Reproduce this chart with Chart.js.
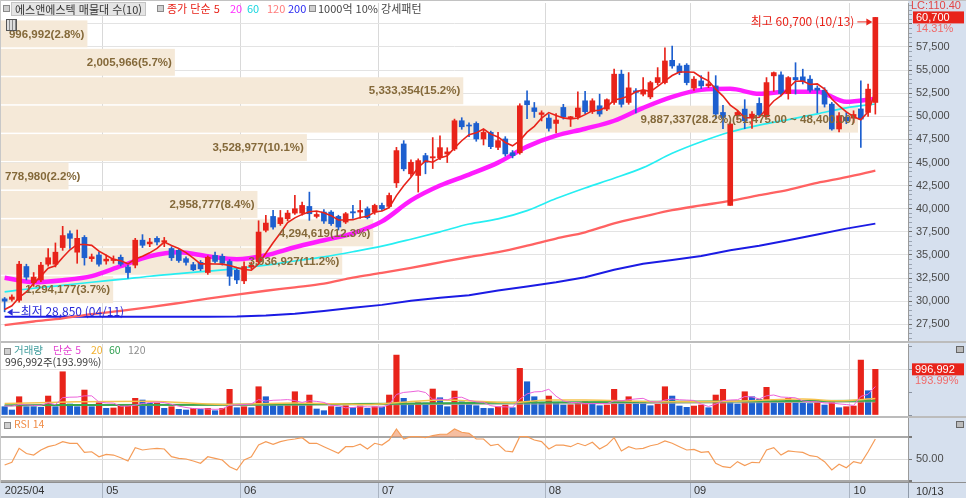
<!DOCTYPE html>
<html lang="ko">
<head>
<meta charset="utf-8">
<title>에스앤에스텍 일봉</title>
<script src="https://cdn.jsdelivr.net/npm/chart.js@4.4.1/dist/chart.umd.min.js"></script>
<style>
html,body{margin:0;padding:0;background:#fff;}
#wrap{position:relative;width:966px;height:498px;overflow:hidden;background:#fff;font-family:'Noto Sans CJK KR','Noto Sans',sans-serif;}
#wrap canvas{position:absolute;left:0;}
.a{position:absolute;white-space:nowrap;line-height:1;}
.ic{position:absolute;width:5px;height:5px;border:1px solid #8a8a8a;background:#cfcfcf;}
.t{position:absolute;white-space:nowrap;line-height:12px;}
</style>
</head>
<body>
<div id="wrap">
  <div class="a" style="left:908px;top:0;width:58px;height:498px;background:#d6e0ee"></div>
  <div class="a" style="left:0;top:483px;width:966px;height:15px;background:#d6e0ee"></div>
  <canvas id="cPrice" width="966" height="342" style="top:0"></canvas>
  <canvas id="cVol" width="966" height="76" style="top:342px"></canvas>
  <canvas id="cRsi" width="966" height="80" style="top:418px"></canvas>
  <div class="a" style="left:0;top:0;width:966px;height:1px;background:#c2c2c2"></div>
  <div class="a" style="left:0;top:341px;width:966px;height:2px;background:#bcbcbc"></div>
  <div class="a" style="left:0;top:416px;width:966px;height:2px;background:#bcbcbc"></div>
  <div class="a" style="left:0;top:482px;width:966px;height:1px;background:#8f8f8f"></div>
  <div class="a" style="left:0;top:0;width:1px;height:483px;background:#c8c8c8"></div>
  <div class="a" style="left:908px;top:483px;width:1px;height:15px;background:#8f9aa8"></div>
  <div id="legends"></div>
</div>
<script>
// ---------------- DATA ----------------
const monthDays = [
  ['2025/04',[11,14,15,16,17,18,21,22,23,24,25,28,29,30]],
  ['2025/05',[2,7,8,9,12,13,14,15,16,19,20,21,22,23,26,27,28,29,30]],
  ['2025/06',[2,4,5,9,10,11,12,13,16,17,18,19,20,23,24,25,26,27,30]],
  ['2025/07',[1,2,3,4,7,8,9,10,11,14,15,16,17,18,21,22,23,24,25,28,29,30,31]],
  ['2025/08',[1,4,5,6,7,8,11,12,13,14,18,19,20,21,22,25,26,27,28,29]],
  ['2025/09',[1,2,3,4,5,8,9,10,11,12,15,16,17,18,19,22,23,24,25,26,29,30]],
  ['2025/10',[1,2,10,13]]
];
const padSlots = ['+1','+2','+3','+4'];

const opens = [30250,30200,30100,33750,32000,32300,34000,34000,35800,37300,
35300,36900,34600,35000,34350,34400,34750,33700,33900,36600,
36200,36800,36400,35700,35500,34600,33950,34200,33100,34950,
34850,34300,33350,32200,33700,34250,37670,39170,38390,38930,
39530,39530,40250,39170,39640,39640,39170,38560,39680,39640,
40000,39640,40360,40250,42800,47010,43780,43600,45750,45500,
45530,45930,46470,49520,49050,49230,47550,48260,46640,47550,
46060,46060,51680,50920,50200,49810,49230,50960,49850,49950,
51680,50520,51140,50780,51500,54560,51500,52760,52400,52100,
53650,53650,56060,55450,55530,53050,53830,53300,53290,50420,
40360,50060,50780,49950,51400,49950,54380,54480,52460,54200,
54270,54020,53050,52830,51320,48630,49900,49800,50800,50420,51500];
const highs = [30400,30700,34300,34000,33100,34200,35700,36300,38100,37600,
37700,37100,35100,35300,35000,34900,35000,33900,36800,37200,
36800,37000,36900,35900,35600,34800,34200,34400,34900,35300,
35100,34500,33500,34250,34200,38700,39280,39820,39820,39820,
41440,40720,41800,39600,39900,39800,39300,39600,40360,40900,
40200,40500,40600,41700,46640,47370,45300,45400,46000,47700,
47900,46600,49700,49850,49300,49400,48500,48400,48260,47800,
46300,51360,52760,51500,50600,50200,50300,51300,50000,52650,
52700,51900,52400,51900,55100,55000,54730,53000,54190,53800,
55270,57420,57600,55700,55700,54300,54400,54800,54400,51200,
49400,50600,51800,50500,52000,54190,54800,54800,54300,55800,
55100,54400,53300,53100,51500,50400,50400,50600,53830,53480,60700];
const lows = [28850,30000,29900,32300,31600,32100,33800,33700,35500,35700,
34100,33900,34300,33800,34000,34100,33800,32500,33600,35800,
35900,36100,35900,34400,34200,33900,33300,33300,32900,34100,
33900,31700,31900,31900,33500,34100,37500,37800,38200,38700,
39400,39300,38740,39000,38400,38200,37700,38400,38960,38960,
38900,39400,39800,40100,42300,44100,43500,41800,43780,44350,
45300,45000,46300,48600,47800,47300,46900,46500,46400,45700,
45500,45900,49740,49880,49500,48400,48200,49700,48900,49700,
50300,50300,50000,50600,51300,51000,51300,50380,52200,51900,
53400,53500,55200,54500,53400,52800,53000,53100,49740,48660,
40360,49600,48660,48700,50000,49900,52700,52200,51860,52400,
53500,52600,50380,51000,48500,48300,49200,49300,46640,50000,50240];
const closes = [30000,30450,34000,32600,32600,33900,34700,35300,37100,36800,
36800,34700,34800,34000,34550,34550,34000,33100,36600,36050,
36400,36400,36550,34700,34400,34200,33400,33500,34750,34300,
34100,32700,32300,33750,33900,37480,38450,38020,39030,39530,
40000,40360,39460,39380,38670,38390,38020,39460,39550,39820,
39030,40360,40000,41440,46290,44320,45030,45210,45030,45630,
46610,46150,49520,48870,48950,47550,48260,46720,47370,45930,
45750,51140,51250,50520,50380,48700,49600,49950,49950,50900,
50500,51680,50250,51800,54560,51300,53080,52580,52760,53650,
54190,55990,55450,54730,53650,54020,53290,53500,50250,49880,
49170,50420,49520,50240,50150,53650,54730,52460,54190,53950,
53760,52830,52830,51320,48630,50060,49520,50200,49700,52940,60700];

// price moving averages
const ma5 = [29100,29500,30400,31000,31930,32710,33560,33820,34720,35560,
36140,36140,36040,35420,34970,34520,34380,34040,34560,34860,
35230,35710,36400,36020,35690,35250,34650,34040,34050,34030,
34010,33870,33630,33430,33350,34030,35180,36320,37380,38500,
39010,39390,39680,39750,39570,39250,38780,38780,38820,39050,
39180,39640,39750,40130,41420,42480,43420,44460,45180,45040,
45500,45730,46590,47360,48020,48210,48630,48070,47770,47170,
46810,47380,48290,48920,49810,50400,50090,49830,49720,49820,
50180,50600,50660,51030,51760,51920,52200,52660,52860,52670,
53250,53830,54410,54800,54800,54770,54230,53840,52940,52190,
51220,50640,49850,49850,49900,50800,51660,52250,53040,53800,
53820,53440,53510,52940,51870,51130,50470,49950,49620,50480,52610];
const maIdx  = [0,4,8,12,16,20,24,28,32,36,40,44,48,52,56,60,64,68,72,76,80,84,88,92,96,100,104,108,112,116,120];
const ma20Val  = [32540,32060,32275,32710,33780,34860,35290,34860,34540,34970,35830,36590,37340,38630,40900,42510,43700,44990,46720,47910,48660,49520,50920,52110,52860,52970,52430,52650,52650,51570,51900];
const ma60Val  = [31010,31400,31720,32050,32350,32700,32980,33250,33520,33900,34350,34800,35350,35950,36700,37500,38350,38900,39800,41100,42250,43300,44450,46000,47250,48300,49050,49650,50270,50920,51330];
const ma120Val = [27420,27800,28150,28600,28950,29350,29800,30270,30720,31130,31500,31900,32550,33050,33600,34200,34780,35300,36000,36780,37450,38420,39150,39850,40360,40850,41470,42050,42800,43410,44130];
const ma200Val = [28320,28320,28320,28320,28320,28320,28320,28320,28330,28450,28650,28950,29300,29600,30050,30380,30650,31150,31600,32050,32600,33400,34050,34450,34900,35510,36000,36600,37220,37850,38390];

// volume (shares)
const volumes = [181000,109000,399000,181000,181000,168000,414000,181000,944000,240000,
181000,545000,181000,268000,146000,153000,203000,207000,364000,327000,
255000,262000,146000,181000,124000,109000,146000,124000,146000,94000,
146000,560000,159000,181000,159000,617000,399000,255000,203000,207000,
508000,203000,436000,131000,94000,185000,174000,203000,159000,196000,
146000,181000,174000,436000,1308000,364000,255000,268000,262000,567000,
377000,181000,523000,290000,233000,203000,146000,142000,181000,218000,
159000,1018000,726000,399000,255000,414000,255000,218000,225000,255000,
290000,279000,203000,218000,560000,290000,399000,290000,283000,203000,
233000,617000,414000,196000,168000,196000,218000,159000,436000,560000,
268000,240000,508000,399000,342000,604000,327000,290000,364000,290000,
255000,251000,290000,218000,290000,159000,181000,196000,1199000,530000,996992];
const volMa5K = [200,195,230,220,210,208,269,225,378,389,
392,418,418,283,264,259,190,195,215,251,
271,283,271,234,194,164,141,137,130,124,
131,214,221,228,241,335,303,322,327,336,
314,275,311,297,274,210,204,157,163,183,
176,177,171,227,449,493,507,526,491,343,
346,331,382,388,321,286,279,203,181,178,
169,344,460,504,511,562,410,308,273,273,
249,253,250,249,310,310,334,351,364,293,
282,325,350,333,326,318,238,187,235,314,
328,333,402,395,351,419,436,392,385,375,
305,290,290,261,261,242,228,209,405,453,621];
const volMa20Idx = [0,10,20,30,40,50,54,60,70,75,80,90,100,110,115,120];
const volMa20K   = [250,290,300,230,260,230,270,330,270,330,330,290,300,350,310,360];
const volMa60Idx = [0,30,60,90,120];
const volMa60K   = [215,225,255,290,310];
const volMa120Idx = [0,40,80,120];
const volMa120K   = [205,215,245,285];

// RSI 14
const rsi = [44.5,47,59.7,55,53.6,58.2,61.2,62.7,65.8,64.3,
64.3,56,56.6,52,54.2,53.6,51.2,48.2,60.3,58.2,
59.1,59.7,59.1,52.1,50.6,50,48.2,46.1,52.1,50.6,
49.1,43,40,49.1,52.1,62.7,65.8,63.4,65.8,67.3,
68.2,69.4,64.3,64.3,61.2,58.2,55.2,61.2,61.2,63.4,
59.1,64.3,62.7,67.3,77.3,68.2,70.3,70.3,69.4,71.2,
72.5,72.5,77.3,74.3,73.3,68.2,68.2,62.1,63.4,57.3,
56.6,70.3,70.3,67.3,65.8,59.1,62.7,62.7,61.2,64.3,
62.1,65.2,59.1,62.7,69.4,57.3,61.2,59.1,59.7,62.1,
63.4,66.4,64.3,61.2,58.2,58.8,56,56.6,46.1,43,
42.1,47.6,44,47,46.6,58.2,60.3,53.6,57.3,56.6,
56,53,52.1,47.6,40,45.2,42.1,47.6,46.1,56.6,68.2];

// volume profile (매물대, 10 bands)
const profileHigh = [60700,57625,54550,51475,48400,45325,42250,39175,36100,33025];
const profileLow  = [57625,54550,51475,48400,45325,42250,39175,36100,33025,29950];
const profileVol  = [996992,2005966,5333354,9887337,3528977,778980,2958777,4294619,3936927,1294177];
const profilePct  = ['2.8','5.7','15.2','28.2','10.1','2.2','8.4','12.3','11.2','3.7'];

// axis tick labels
const priceTickLabels = [27500,30000,32500,35000,37500,40000,42500,45000,47500,50000,52500,55000,57500];
const rsiTickLabels = [50];
const lastChangePct = '14.31%';
const lcText = 'LC:110.40';
const volRatioPct = '193.99%';

// ---------------- BUILD ----------------
const dates = monthDays.flatMap(([m, ds]) => ds.map(d => m + '/' + String(d).padStart(2, '0')));
const labels = dates.concat(padSlots);
const N = labels.length;
const LAST = closes.length - 1;
const monthStart = {};
dates.forEach((l, i) => {
  const [y, m] = l.split('/');
  if (i === 0) monthStart[i] = y + '/' + m;
  else if (dates[i - 1].split('/')[1] !== m) monthStart[i] = m;
});
const fmt = v => v.toLocaleString('en-US');
const fmt2 = v => v.toLocaleString('en-US', {minimumFractionDigits: 2, maximumFractionDigits: 2});
const sparse = (idx, val, k) => { const a = new Array(N).fill(null); idx.forEach((ix, j) => a[ix] = val[j] * k); return a; };

const RED = '#e8231a', BLUE = '#1d5fcf';
const NUMF = "'Liberation Sans', Arial, sans-serif";
const KRF = "'Noto Sans CJK KR','Noto Sans',sans-serif";
const candleColor = closes.map((c, i) => c >= opens[i] ? RED : BLUE);
const volColor = volumes.map((v, i) => (i > 0 && v > volumes[i - 1]) ? RED : BLUE);

Chart.defaults.animation = false;
Chart.defaults.events = [];
Chart.defaults.plugins.legend.display = false;
Chart.defaults.plugins.tooltip.enabled = false;

const noPad = s => { s.paddingTop = 0; s.paddingBottom = 0; s.paddingLeft = 0; s.paddingRight = 0; };
function xAxis(showLabels) {
  const isM = i => (i in monthStart) && i > 0;
  return {
    type: 'category', offset: true,
    grid: {
      offset: true, lineWidth: 1,
      color: c => isM(c.index) ? '#d9d9d9' : 'rgba(0,0,0,0)',
      drawTicks: showLabels, tickLength: showLabels ? 17 : 0,
      tickColor: c => isM(c.index) ? '#aab4c2' : 'rgba(0,0,0,0)'
    },
    border: {display: false},
    ticks: {
      display: showLabels, autoSkip: false, maxRotation: 0, minRotation: 0, align: 'start',
      padding: -14, color: '#333', font: {size: 11, family: NUMF},
      callback: (v, i) => monthStart[i] !== undefined ? monthStart[i] : ''
    },
    afterFit: s => { s.height = showLabels ? 17 : 0; noPad(s); }
  };
}
function yBase(min, max, tickVals) {
  return {
    position: 'right', min, max,
    afterBuildTicks: s => { s.ticks = tickVals.map(v => ({value: v})); },
    afterFit: s => { s.width = 58; noPad(s); },
    border: {display: true, color: '#9a9a9a', width: 1},
  };
}

// ---------- price chart ----------
const profileAxisMax = 10464000;
const priceOverlay = {
  id: 'priceOverlay',
  beforeDatasetsDraw(chart) {
    const {ctx, chartArea: a, scales: {y, xp}} = chart;
    ctx.save();
    ctx.beginPath(); ctx.rect(a.left, a.top, a.width, a.height); ctx.clip();
    ctx.fillStyle = '#f5e9d8';
    profileVol.forEach((v, k) => {
      const t = y.getPixelForValue(profileHigh[k]) + 3;
      const b = y.getPixelForValue(profileLow[k]) + 1.5;
      const x0 = xp.getPixelForValue(0), x1 = xp.getPixelForValue(v);
      ctx.fillRect(x0, t, x1 - x0, b - t);
    });
    ctx.restore();
  },
  afterDatasetsDraw(chart) {
    const {ctx, chartArea: a, scales: {x, y, xp}} = chart;
    ctx.save();
    ctx.beginPath(); ctx.rect(a.left, a.top, a.width, a.height); ctx.clip();
    const maxK = profileVol.indexOf(Math.max(...profileVol));
    ctx.font = `bold 11.5px ${NUMF}`;
    ctx.fillStyle = '#84693a';
    ctx.textAlign = 'left'; ctx.textBaseline = 'middle';
    profileVol.forEach((v, k) => {
      const t = y.getPixelForValue(profileHigh[k]) + 3;
      const b = y.getPixelForValue(profileLow[k]) + 1.5;
      let txt = `${fmt(v)}(${profilePct[k]}%)`;
      if (k === maxK) txt += `(${fmt2(profileHigh[k])} ~ ${fmt2(profileLow[k])})`;
      const w = ctx.measureText(txt).width;
      const xs = Math.max(xp.getPixelForValue(v) - 3 - w, a.left + 4);
      ctx.fillText(txt, xs, (t + b) / 2 + 0.5);
    });
    const hiIdx = highs.indexOf(Math.max(...highs));
    const loIdx = lows.indexOf(Math.min(...lows));
    const md = i => dates[i].slice(5);
    const hx = x.getPixelForValue(hiIdx), hy = y.getPixelForValue(highs[hiIdx]) + 4;
    ctx.font = `12px ${KRF}`;
    ctx.fillStyle = RED; ctx.strokeStyle = RED; ctx.lineWidth = 1;
    ctx.textAlign = 'right';
    ctx.fillText(`최고 ${fmt(highs[hiIdx])} (${md(hiIdx)})`, hx - 21, hy);
    ctx.beginPath(); ctx.moveTo(hx - 18, hy + 0.5); ctx.lineTo(hx - 7, hy + 0.5); ctx.stroke();
    ctx.beginPath(); ctx.moveTo(hx - 3, hy + 0.5); ctx.lineTo(hx - 9, hy - 3); ctx.lineTo(hx - 9, hy + 4); ctx.closePath(); ctx.fill();
    const lx = x.getPixelForValue(loIdx), ly = y.getPixelForValue(lows[loIdx]);
    ctx.fillStyle = '#2a2ad8'; ctx.strokeStyle = '#2a2ad8';
    ctx.beginPath(); ctx.moveTo(lx + 2.5, ly + 0.5); ctx.lineTo(lx + 8, ly - 3); ctx.lineTo(lx + 8, ly + 4); ctx.closePath(); ctx.fill();
    ctx.beginPath(); ctx.moveTo(lx + 8, ly + 0.5); ctx.lineTo(lx + 15, ly + 0.5); ctx.stroke();
    ctx.textAlign = 'left';
    ctx.fillText(`최저 ${fmt(lows[loIdx])} (${md(loIdx)})`, lx + 16, ly);
    ctx.restore();
  },
  afterDraw(chart) {
    const {ctx, chartArea: a, scales: {y}} = chart;
    const yy = y.getPixelForValue(closes[LAST]);
    ctx.save();
    ctx.font = `11px ${NUMF}`; ctx.textBaseline = 'middle'; ctx.textAlign = 'left';
    ctx.fillStyle = '#e24646'; ctx.fillText(lcText, a.right + 3, yy - 11);
    ctx.fillStyle = RED; ctx.fillRect(a.right + 5, yy - 6, 51, 12);
    ctx.fillStyle = '#fff'; ctx.fillText(fmt(closes[LAST]), a.right + 8, yy + 0.5);
    ctx.fillStyle = '#f06a6a'; ctx.fillText(lastChangePct, a.right + 8, yy + 12);
    ctx.restore();
  }
};
const priceTicks = []; for (let v = 26000; v <= 62000; v += 500) priceTicks.push(v);
new Chart(document.getElementById('cPrice'), {
  type: 'bar',
  data: {
    labels,
    datasets: [
      {type: 'line', data: ma5, borderColor: RED, borderWidth: 1.6, pointRadius: 0, order: 0, xAxisID: 'x', yAxisID: 'y'},
      {data: opens.map((o, i) => [o, closes[i]]), backgroundColor: candleColor, barThickness: 5, grouped: false, minBarLength: 1, order: 1, xAxisID: 'x', yAxisID: 'y'},
      {data: lows.map((l, i) => [l, highs[i]]), backgroundColor: candleColor, barThickness: 1, grouped: false, order: 2, xAxisID: 'x', yAxisID: 'y'},
      {type: 'line', data: sparse(maIdx, ma20Val, 1), borderColor: '#ff1cff', borderWidth: 4.5, pointRadius: 0, spanGaps: true, cubicInterpolationMode: 'monotone', order: 3, xAxisID: 'x', yAxisID: 'y'},
      {type: 'line', data: sparse(maIdx, ma60Val, 1), borderColor: '#26eef2', borderWidth: 1.7, pointRadius: 0, spanGaps: true, cubicInterpolationMode: 'monotone', order: 4, xAxisID: 'x', yAxisID: 'y'},
      {type: 'line', data: sparse(maIdx, ma120Val, 1), borderColor: '#ff6262', borderWidth: 2.3, pointRadius: 0, spanGaps: true, cubicInterpolationMode: 'monotone', order: 5, xAxisID: 'x', yAxisID: 'y'},
      {type: 'line', data: sparse(maIdx, ma200Val, 1), borderColor: '#1b1be4', borderWidth: 2, pointRadius: 0, spanGaps: true, order: 6, xAxisID: 'x', yAxisID: 'y'}
    ]
  },
  options: {
    responsive: false, devicePixelRatio: 1,
    layout: {padding: {left: 1, right: 0, top: 3, bottom: 2}},
    scales: {
      x: xAxis(false),
      xp: {type: 'linear', axis: 'x', display: false, offset: false, grace: 0, min: 0, max: profileAxisMax},
      y: Object.assign(yBase(25800, 62260, priceTicks), {
        grid: {
          color: c => (c.tick && c.tick.value % 2500 === 0) ? '#e3e3e3' : 'rgba(0,0,0,0)',
          tickLength: 4,
          tickColor: c => (c.tick && c.tick.value % 2500 === 0) ? '#6e6e6e' : '#9aa4b2'
        },
        ticks: {autoSkip: false, padding: 4, color: '#4a4a4a', font: {size: 11, family: NUMF},
          callback: v => priceTickLabels.includes(v) ? fmt(v) : ''}
      })
    }
  },
  plugins: [priceOverlay]
});

// ---------- volume chart ----------
const volOverlay = {
  id: 'volOverlay',
  afterDraw(chart) {
    const {ctx, chartArea: a, scales: {y}} = chart;
    const yy = y.getPixelForValue(volumes[LAST]);
    ctx.save();
    ctx.font = `11px ${NUMF}`; ctx.textBaseline = 'middle'; ctx.textAlign = 'left';
    ctx.fillStyle = RED; ctx.fillRect(a.right + 4, yy - 6, 52, 12);
    ctx.fillStyle = '#fff'; ctx.fillText(fmt(volumes[LAST]), a.right + 7, yy + 0.5);
    ctx.fillStyle = '#f06a6a'; ctx.fillText(volRatioPct, a.right + 7, yy + 11.5);
    ctx.restore();
  }
};
new Chart(document.getElementById('cVol'), {
  type: 'bar',
  data: {
    labels,
    datasets: [
      {type: 'line', data: volMa5K.map(v => v * 1000), borderColor: '#ec62da', borderWidth: 1, pointRadius: 0, order: 0},
      {type: 'line', data: sparse(volMa20Idx, volMa20K, 1000), borderColor: '#f5c24c', borderWidth: 1.5, pointRadius: 0, spanGaps: true, cubicInterpolationMode: 'monotone', order: 1},
      {type: 'line', data: sparse(volMa120Idx, volMa120K, 1000), borderColor: '#a9a9a9', borderWidth: 1, pointRadius: 0, spanGaps: true, order: 3},
      {type: 'line', data: sparse(volMa60Idx, volMa60K, 1000), borderColor: '#3aa84c', borderWidth: 2, pointRadius: 0, spanGaps: true, cubicInterpolationMode: 'monotone', order: 2},
      {data: volumes, backgroundColor: volColor, barThickness: 5.5, grouped: false, order: 5}
    ]
  },
  options: {
    responsive: false, devicePixelRatio: 1,
    layout: {padding: {left: 1, right: 0, top: 2, bottom: 3}},
    scales: {
      x: xAxis(false),
      y: Object.assign(yBase(0, 1550000, [0, 500000, 1000000, 1500000]), {
        grid: {color: c => (c.tick && c.tick.value === 1000000) ? '#e3e3e3' : 'rgba(0,0,0,0)', tickLength: 4, tickColor: '#8a94a2'},
        ticks: {autoSkip: false, padding: 4, callback: () => ''}
      })
    }
  },
  plugins: [volOverlay]
});

// ---------- RSI chart ----------
new Chart(document.getElementById('cRsi'), {
  type: 'line',
  data: {
    labels,
    datasets: [{
      data: rsi, borderColor: '#f59c58', borderWidth: 1.2, pointRadius: 0,
      fill: {target: {value: 70}, above: 'rgba(240,146,96,0.6)', below: 'rgba(0,0,0,0)'}
    }]
  },
  options: {
    responsive: false, devicePixelRatio: 1,
    layout: {padding: {left: 1, right: 0, top: 0, bottom: 0}},
    scales: {
      x: xAxis(true),
      y: Object.assign(yBase(30, 87.3, [30, 50, 70]), {
        grid: {
          color: c => !c.tick ? 'rgba(0,0,0,0)' : (c.tick.value === 50 ? '#dcdcdc' : '#a8a8a8'),
          lineWidth: c => (c.tick && c.tick.value !== 50) ? 2 : 1,
          tickLength: 4, tickColor: '#7a7a7a'
        },
        ticks: {autoSkip: false, padding: 4, color: '#4a4a4a', font: {size: 11, family: NUMF},
          callback: v => rsiTickLabels.includes(v) ? fmt2(v) : ''}
      })
    }
  }
});

// ---------- legends (real text) ----------
const L = document.getElementById('legends');
function txt(left, top, s, color, size, extra) {
  const d = document.createElement('div');
  d.className = 't';
  d.style.cssText = `left:${left}px;top:${top}px;color:${color};font-size:${size}px;${extra || ''}`;
  d.textContent = s; L.appendChild(d); return d;
}
function icon(left, top) { const d = document.createElement('div'); d.className = 'ic'; d.style.left = left + 'px'; d.style.top = top + 'px'; L.appendChild(d); }
icon(3, 5);
txt(11, 2, '에스앤에스텍 매물대 수(10)', '#333', 11, 'background:#e4e4e4;border:1px solid #c4c4c4;padding:0 3px;height:12px;');
icon(157, 5);
txt(167, 2, '종가 단순 5', '#e8231a', 11);
txt(230, 2, '20', '#ff2cff', 11);
txt(247, 2, '60', '#19d6df', 11);
txt(267, 2, '120', '#ff7b7b', 11);
txt(288, 2, '200', '#2a2af0', 11);
icon(309, 5);
txt(318, 2, '1000억 10% 강세패턴', '#444', 11);
const cal = document.createElement('div');
cal.style.cssText = 'position:absolute;left:6px;top:19px;width:9px;height:10px;border:1px solid #555;background:repeating-linear-gradient(90deg,#ddd 0 2px,#888 2px 3px);';
L.appendChild(cal);

icon(4, 348);
txt(14, 344, '거래량', '#3f9c9c', 10.5);
txt(53, 344, '단순 5', '#e23fd0', 10.5);
txt(91, 344, '20', '#f2b233', 10.5);
txt(109, 344, '60', '#2f9f50', 10.5);
txt(128, 344, '120', '#8f8f8f', 10.5);
txt(5, 356, `${fmt(volumes[LAST])}주(${volRatioPct})`, '#3a3a3a', 10.5);

icon(4, 422);
txt(14, 418, 'RSI 14', '#f08c46', 10.5);

txt(916, 485, dates[LAST].slice(5), '#333', 11, `font-family:${NUMF};`);
const sq1 = document.createElement('div'); sq1.style.cssText = 'position:absolute;left:956px;top:346px;width:6px;height:5px;border:1px solid #666;background:#bbb;'; L.appendChild(sq1);
const sq2 = document.createElement('div'); sq2.style.cssText = 'position:absolute;left:956px;top:421px;width:6px;height:5px;border:1px solid #666;background:#bbb;'; L.appendChild(sq2);
</script>
</body>
</html>
